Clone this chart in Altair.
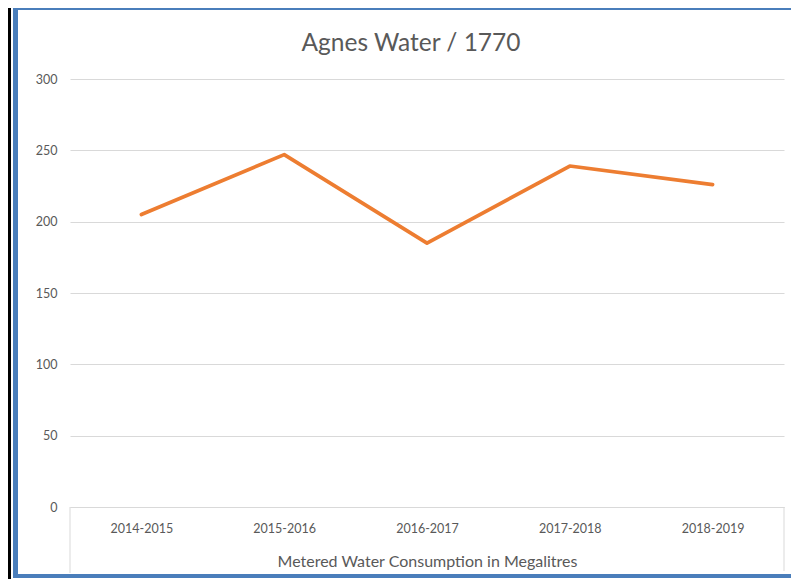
import altair as alt
import pandas as pd

# ---- data ----
years = ["2014-2015", "2015-2016", "2016-2017", "2017-2018", "2018-2019"]
consumption = [205, 247, 185, 239, 226]
y_ticks = [0, 50, 100, 150, 200, 250, 300]
title_text = "Agnes Water / 1770"
x_title = "Metered Water Consumption in Megalitres"

df = pd.DataFrame({"year": years, "value": consumption})
one = pd.DataFrame({"k": [0]})

W, H = 714, 428
PAD = {"left": 62, "top": 71, "right": 7, "bottom": 72}
FONT = "Lato"
GRAY = "#595959"
GRID = "#d9d9d9"
BLUE = "#4A7EBB"

line = alt.Chart(df).mark_line(
    color="#ED7D31", strokeWidth=3.7, strokeCap="round", strokeJoin="round"
).encode(
    x=alt.X(
        "year:N", sort=years,
        scale=alt.Scale(type="point", padding=0.5),
        axis=alt.Axis(
            title=x_title, labelAngle=0, ticks=False, domain=True,
            domainColor=GRID, domainWidth=1, grid=False,
            labelPadding=15, labelFont=FONT, labelFontSize=12.5, labelColor=GRAY,
            titleFont=FONT, titleFontSize=16, titleFontWeight="normal",
            titleColor=GRAY, titlePadding=19,
        ),
    ),
    y=alt.Y(
        "value:Q", scale=alt.Scale(domain=[0, 300], nice=False),
        axis=alt.Axis(
            values=y_ticks, title=None, domain=False, ticks=False,
            grid=True, gridColor=GRID, gridWidth=1,
            labelPadding=13, labelFont=FONT, labelFontSize=12.5, labelColor=GRAY,
        ),
    ),
)

title = alt.Chart(one).mark_text(
    font=FONT, fontSize=24.5, color=GRAY, align="center", baseline="alphabetic"
).encode(x=alt.value(W / 2 - 16), y=alt.value(-28), text=alt.value(title_text))

# Excel-style category-axis side lines
left_edge = alt.Chart(one).mark_rule(color=GRID, strokeWidth=1).encode(
    x=alt.value(0), y=alt.value(H), y2=alt.value(H + PAD["bottom"] - 6))
right_edge = alt.Chart(one).mark_rule(color=GRID, strokeWidth=1).encode(
    x=alt.value(W), y=alt.value(H), y2=alt.value(H + PAD["bottom"] - 8))

# frame decorations (black line and blue selection border)
black = alt.Chart(one).mark_rule(color="black", strokeWidth=3).encode(
    x=alt.value(-60.5), y=alt.value(-PAD["top"]), y2=alt.value(H + PAD["bottom"]))
blue_left = alt.Chart(one).mark_rule(color=BLUE, strokeWidth=5).encode(
    x=alt.value(-54.5), y=alt.value(-PAD["top"]), y2=alt.value(H + PAD["bottom"] - 1))
blue_top = alt.Chart(one).mark_rule(color=BLUE, strokeWidth=4).encode(
    x=alt.value(-57), x2=alt.value(W + PAD["right"]), y=alt.value(-PAD["top"]))
blue_bottom = alt.Chart(one).mark_rule(color=BLUE, strokeWidth=4).encode(
    x=alt.value(-57), x2=alt.value(W + PAD["right"]), y=alt.value(H + PAD["bottom"] - 3))

chart = alt.layer(
    line, title, left_edge, right_edge, black, blue_left, blue_top, blue_bottom
).properties(
    width=W, height=H,
    padding=PAD, autosize="none", background="white",
).configure_view(stroke=None)

chart.save("out.html", embed_options={"renderer": "svg", "actions": False})
